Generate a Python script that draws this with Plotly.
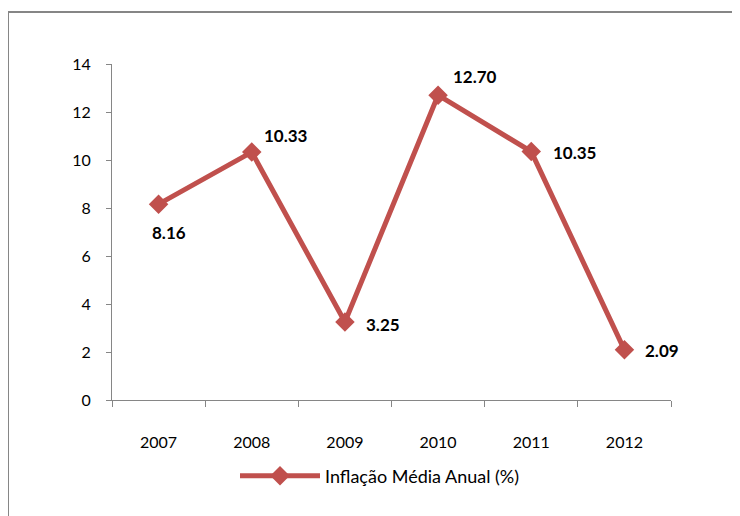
import plotly.graph_objects as go

years = [2007, 2008, 2009, 2010, 2011, 2012]
year_labels = ["2007", "2008", "2009", "2010", "2011", "2012"]
inflation = [8.16, 10.33, 3.25, 12.70, 10.35, 2.09]
labels = ["8.16", "10.33", "3.25", "12.70", "10.35", "2.09"]
series_name = "Inflação Média Anual (%)"
y_ticks = [0, 2, 4, 6, 8, 10, 12, 14]

# label offsets in pixels (styling)
xshifts = [10, 34, 38, 37, 43, 38]
yshifts = [-28, 17, -2, 19, -1, -1]

W, H = 740, 516
OFF = 8  # page body margin
# plot area in page pixels
PX0, PX1, PY0, PY1 = 112, 671, 64, 400
L = PX0 - OFF
T = PY0 - OFF
R = W - (PX1 - OFF)
B = H - (PY1 - OFF)
FONT = "Lato"
RED = "#C0504D"
GREY = "#868686"

boundaries = [years[0] - 0.5] + [y + 0.5 for y in years]

fig = go.Figure()
fig.add_trace(go.Scatter(
    x=years, y=inflation, mode="lines+markers", name=series_name,
    line=dict(color=RED, width=5),
    marker=dict(symbol="diamond", size=15, color=RED),
    hoverinfo="skip",
))

annotations = []
for x, y, t, dx, dy in zip(years, inflation, labels, xshifts, yshifts):
    annotations.append(dict(
        x=x, y=y, xref="x", yref="y", text="<b>" + t + "</b>", showarrow=False,
        xshift=dx, yshift=dy, font=dict(family=FONT, size=17, color="black"),
    ))

pw = PX1 - PX0
ph = PY1 - PY0


def px(xp):
    return (xp - PX0) / pw


def py(yp):
    return (PY1 - yp) / ph


shapes = [
    dict(type="line", xref="paper", yref="paper",
         x0=px(8), x1=px(W + 20), y0=py(12), y1=py(12),
         line=dict(color=GREY, width=2)),
    dict(type="line", xref="paper", yref="paper",
         x0=px(8), x1=px(8), y0=py(12), y1=py(H + 20),
         line=dict(color=GREY, width=2)),
]

fig.update_layout(
    width=W, height=H,
    margin=dict(l=L, r=R, t=T, b=B),
    paper_bgcolor="white", plot_bgcolor="white",
    font=dict(family=FONT, size=16, color="black"),
    showlegend=True,
    legend=dict(orientation="h", x=px(380), xanchor="center", y=py(476), yanchor="middle",
                font=dict(family=FONT, size=18, color="black"), itemwidth=80),
    annotations=annotations,
    shapes=shapes,
    xaxis=dict(
        range=[boundaries[0], boundaries[-1]], tickvals=years, ticktext=year_labels,
        showgrid=False, showline=True, linecolor=GREY, linewidth=1,
        ticks="", ticklabelstandoff=28, tickfont=dict(family=FONT, size=16), zeroline=False,
        minor=dict(tickvals=boundaries, ticks="outside", ticklen=6, tickcolor=GREY, showgrid=False),
    ),
    yaxis=dict(
        range=[0, 14], tickvals=y_ticks, showgrid=False, showline=True,
        linecolor=GREY, linewidth=1, ticks="outside", ticklen=5, tickcolor=GREY,
        ticklabelstandoff=12, tickfont=dict(family=FONT, size=16), zeroline=False,
    ),
)

fig.write_html("out.html")
